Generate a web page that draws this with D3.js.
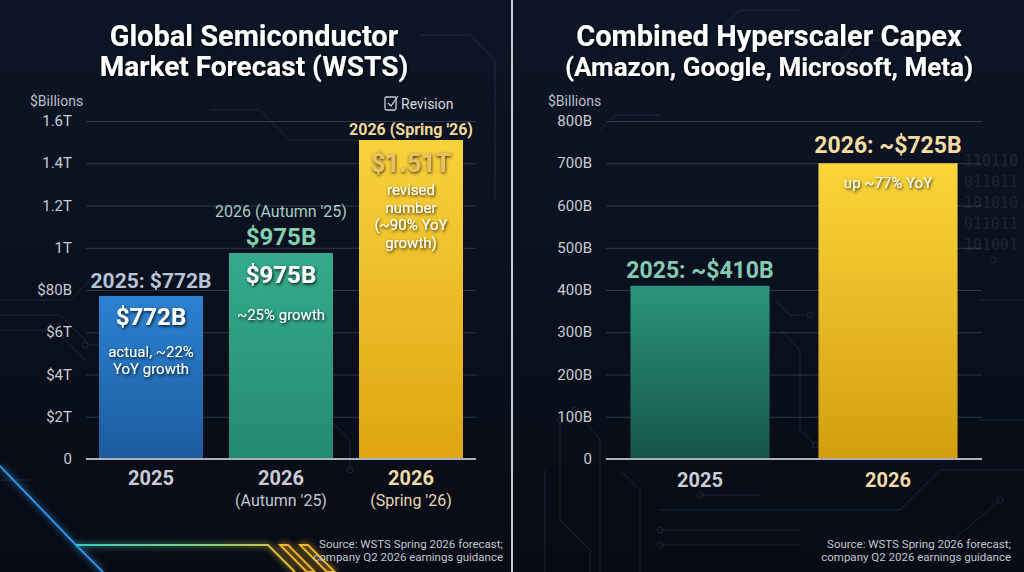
<!DOCTYPE html>
<html>
<head>
<meta charset="utf-8">
<script src="https://cdn.jsdelivr.net/npm/d3@7"></script>
<style>
  html, body { margin: 0; padding: 0; background: #0a111d; }
  svg { display: block; font-family: Roboto, "Noto Sans", sans-serif; }
</style>
</head>
<body>
<svg id="chart" width="1024" height="572"></svg>
<script>
// left chart: WSTS semiconductor market ($B)
const semiKeys = ["2025", "2026 (Autumn '25)", "2026 (Spring '26)"];
const semiValues = [772, 975, 1510];
const semiTicks = [0, 200, 400, 600, 800, 1000, 1200, 1400, 1600];
const semiTickLabels = ["0", "$2T", "$4T", "$6T", "$80B", "1T", "1.2T", "1.4T", "1.6T"];
const semiYear = ["2025", "2026", "2026"];
const semiSub = ["", "(Autumn '25)", "(Spring '26)"];

// right chart: hyperscaler capex ($B)
const capexKeys = ["2025", "2026"];
const capexValues = [410, 700];
const capexTicks = [0, 100, 200, 300, 400, 500, 600, 700, 800];
const capexTickLabels = ["0", "100B", "200B", "300B", "400B", "500B", "600B", "700B", "800B"];

const svg = d3.select("#chart");
const defs = svg.append("defs");

const bg = defs.append("linearGradient").attr("id", "bg")
    .attr("x1", 0).attr("y1", 0).attr("x2", 0).attr("y2", 1);
bg.append("stop").attr("offset", "0%").attr("stop-color", "#0d1627");
bg.append("stop").attr("offset", "100%").attr("stop-color", "#070b14");

function grad(id, top, bottom) {
    const g = defs.append("linearGradient").attr("id", id)
        .attr("x1", 0).attr("y1", 0).attr("x2", 0).attr("y2", 1);
    g.append("stop").attr("offset", "0%").attr("stop-color", top);
    g.append("stop").attr("offset", "100%").attr("stop-color", bottom);
}
grad("gBlue", "#2b82d2", "#1c5c9e");
grad("gGreen", "#35ab8c", "#248a70");
grad("gGold", "#f8d23c", "#dfa512");
grad("gTeal", "#2a957b", "#165449");
grad("gGold2", "#fbd53a", "#d39e0e");

const shadow = defs.append("filter").attr("id", "shadow")
    .attr("x", "-20%").attr("y", "-40%").attr("width", "140%").attr("height", "180%");
shadow.append("feDropShadow").attr("dx", 1).attr("dy", 1.5)
    .attr("stdDeviation", 1.6).attr("flood-color", "#000").attr("flood-opacity", 0.85);

const goldShadow = defs.append("filter").attr("id", "goldShadow")
    .attr("x", "-20%").attr("y", "-40%").attr("width", "140%").attr("height", "180%");
goldShadow.append("feDropShadow").attr("dx", 0.5).attr("dy", 1.2)
    .attr("stdDeviation", 1.4).attr("flood-color", "#3a2503").attr("flood-opacity", 1);

const glow = defs.append("filter").attr("id", "glow")
    .attr("x", "-20%").attr("y", "-50%").attr("width", "140%").attr("height", "200%");
glow.append("feGaussianBlur").attr("stdDeviation", 3).attr("result", "b");
const gm = glow.append("feMerge");
gm.append("feMergeNode").attr("in", "b");
gm.append("feMergeNode").attr("in", "SourceGraphic");

svg.append("rect").attr("width", 1024).attr("height", 572).attr("fill", "url(#bg)");

// faint circuit traces in the background
const deco = svg.append("g").attr("fill", "none").attr("stroke", "#34435a")
    .attr("stroke-width", 1).attr("opacity", 0.45);
const traces = [
    "M0,315 L60,315 L90,345 L100,345", "M0,330 L55,330 L85,360", "M0,300 L70,300 L95,275 L110,275",
    "M210,110 L260,110 L290,140 L360,140", "M420,35 L470,35 L495,60 L495,200",
    "M330,420 L350,440 L350,470", "M0,480 L30,480",
    "M560,420 L560,520 L590,550 L590,572", "M575,410 L600,440 L600,572", "M620,470 L640,490 L640,572",
    "M545,470 L545,572", "M660,530 L800,530", "M660,545 L800,545", "M660,510 L900,510 L940,470 L1024,470",
    "M700,495 L760,495", "M930,560 L1000,500", "M980,300 L1024,300", "M980,420 L1024,420",
    "M780,330 L800,350 L800,430 L815,445", "M775,300 L790,315 L810,315",
    "M600,130 L615,115 L660,115", "M700,50 L740,10 L800,10", "M840,60 L860,40 L960,40"
];
deco.selectAll("path").data(traces).join("path").attr("d", d => d);
const dots = [[85, 345], [110, 275], [560, 420], [575, 410], [660, 530], [660, 545], [700, 495],
    [993, 260], [1000, 500], [815, 445], [810, 315], [350, 470]];
deco.selectAll("circle").data(dots).join("circle")
    .attr("cx", d => d[0]).attr("cy", d => d[1]).attr("r", 3);

svg.append("g").attr("fill", "#3a475c").attr("opacity", 0.35)
    .attr("font-size", 15).attr("font-family", "'DejaVu Sans Mono', monospace")
    .selectAll("text").data(["110110", "011011", "101010", "011011", "101001"])
    .join("text").attr("x", 964).attr("y", (d, i) => 166 + i * 21).text(d => d);

// neon accent in the lower left corner
const neon = svg.append("g").attr("fill", "none").attr("filter", "url(#glow)");
neon.append("path").attr("d", "M0,466 L76,545 L103,572")
    .attr("stroke", "#2f8fe0").attr("stroke-width", 2);
const ng = defs.append("linearGradient").attr("id", "neon")
    .attr("x1", 0).attr("y1", 0).attr("x2", 1).attr("y2", 0);
ng.append("stop").attr("offset", "0%").attr("stop-color", "#36c9c0");
ng.append("stop").attr("offset", "60%").attr("stop-color", "#7fd07a");
ng.append("stop").attr("offset", "100%").attr("stop-color", "#f1b92a");
neon.append("path").attr("d", "M76,545 L268,545 L295,572")
    .attr("stroke", "url(#neon)").attr("stroke-width", 2);
neon.selectAll("polygon").data([0, 20]).join("polygon")
    .attr("points", d => `${280 + d},545 ${288 + d},545 ${315 + d},572 ${307 + d},572`)
    .attr("fill", "none").attr("stroke", "#f0b628").attr("stroke-width", 1.8);

// divider
svg.append("line").attr("x1", 512).attr("x2", 512).attr("y1", 0).attr("y2", 572)
    .attr("stroke", "#c9ced6").attr("stroke-width", 2);

const y0 = 459, y1 = 121;

function axisFrame(g, xRange, y, ticks, labels, labelX, unitX) {
    g.append("g")
        .attr("transform", `translate(${xRange[0]},0)`)
        .call(d3.axisLeft(y).tickValues(ticks.slice(1))
            .tickSize(-(xRange[1] - xRange[0])).tickFormat(""))
        .call(a => a.select(".domain").remove())
        .call(a => a.selectAll("line").attr("stroke", "#8d99ad").attr("stroke-opacity", 0.28));

    g.append("g").selectAll("text").data(ticks).join("text")
        .attr("x", labelX).attr("y", d => y(d) + 5)
        .attr("text-anchor", "end").attr("font-size", 15).attr("fill", "#c8ccd4")
        .text((d, i) => labels[i]);

    g.append("text").attr("x", unitX).attr("y", 106)
        .attr("font-size", 14).attr("fill", "#b9bec8").text("$Billions");
}

function baseline(g, xRange) {
    g.append("line").attr("x1", xRange[0]).attr("x2", xRange[1])
        .attr("y1", y0).attr("y2", y0).attr("stroke", "#a9b0bb").attr("stroke-width", 2);
}

function txt(g, x, yy, s, size, fill, weight, filterId) {
    const t = g.append("text").attr("x", x).attr("y", yy).attr("text-anchor", "middle")
        .attr("font-size", size).attr("fill", fill).attr("font-weight", weight || "normal")
        .text(s);
    if (filterId) t.attr("filter", `url(#${filterId === true ? "shadow" : filterId})`);
    return t;
}

// ---------- left chart ----------
{
    const g = svg.append("g");
    const xRange = [86, 476];
    const x = d3.scaleBand().domain(semiKeys).range(xRange).paddingInner(0.2).paddingOuter(0.1);
    const y = d3.scaleLinear().domain([0, 1600]).range([y0, y1]);

    axisFrame(g, xRange, y, semiTicks, semiTickLabels, 72, 30);

    const fills = ["url(#gBlue)", "url(#gGreen)", "url(#gGold)"];
    g.selectAll("rect.bar").data(semiValues).join("rect").attr("class", "bar")
        .attr("x", (d, i) => x(semiKeys[i])).attr("width", x.bandwidth())
        .attr("y", d => y(d)).attr("height", d => y0 - y(d))
        .attr("fill", (d, i) => fills[i]);
    baseline(g, xRange);

    const cx = i => x(semiKeys[i]) + x.bandwidth() / 2;
    const top = i => y(semiValues[i]);

    // 2025
    txt(g, cx(0), top(0) - 8, "2025: $772B", 21, "#b9c3d6", "bold");
    txt(g, cx(0), top(0) + 29, "$772B", 24, "#ffffff", "bold", true);
    txt(g, cx(0), top(0) + 61, "actual, ~22%", 15, "#ffffff", "normal", true);
    txt(g, cx(0), top(0) + 78, "YoY growth", 15, "#ffffff", "normal", true);

    // 2026 autumn
    txt(g, cx(1), top(1) - 36, "2026 (Autumn '25)", 16, "#a6cdc3");
    txt(g, cx(1), top(1) - 8, "$975B", 24, "#82d2b2", "bold");
    txt(g, cx(1), top(1) + 30, "$975B", 24, "#ffffff", "bold", true);
    txt(g, cx(1), top(1) + 67, "~25% growth", 15, "#ffffff", "normal", true);

    // 2026 spring
    const rx = cx(2) - 22;
    const icon = g.append("g").attr("fill", "none").attr("stroke", "#c8ccd4").attr("stroke-width", 1.3);
    icon.append("rect").attr("x", rx - 4).attr("y", 97).attr("width", 11).attr("height", 13).attr("rx", 1.5);
    icon.append("path").attr("d", `M${rx - 1},103 L${rx + 2},106 L${rx + 9},96`);
    g.append("text").attr("x", rx + 12).attr("y", 109).attr("font-size", 14)
        .attr("fill", "#d6d9df").text("Revision");
    txt(g, cx(2), 135, "2026 (Spring '26)", 16, "#f3d89a", "bold");
    txt(g, cx(2), 172, "$1.51T", 25, "#e8c262", "bold", "goldShadow");
    ["revised", "number", "(~90% YoY", "growth)"].forEach((s, i) =>
        txt(g, cx(2), 195 + i * 17.5, s, 15, "#ffffff", "normal", true));

    // x labels
    const yearFill = ["#c9ccd6", "#c9ccd6", "#f3dcaa"];
    semiKeys.forEach((k, i) => {
        txt(g, cx(i), 485, semiYear[i], 20, yearFill[i], "bold");
        if (semiSub[i]) txt(g, cx(i), 506, semiSub[i], 16, i === 2 ? "#e8d6b0" : "#c2c7d0");
    });

    txt(g, 254, 46, "Global Semiconductor", 29, "#ffffff", "bold", true);
    txt(g, 254, 76, "Market Forecast (WSTS)", 28, "#ffffff", "bold", true);
}

// ---------- right chart ----------
{
    const g = svg.append("g");
    const xRange = [606, 982];
    const x = d3.scaleBand().domain(capexKeys).range(xRange).paddingInner(0.26).paddingOuter(0.13);
    const y = d3.scaleLinear().domain([0, 800]).range([y0, y1]);

    axisFrame(g, xRange, y, capexTicks, capexTickLabels, 592, 548);

    const fills = ["url(#gTeal)", "url(#gGold2)"];
    g.selectAll("rect.bar").data(capexValues).join("rect").attr("class", "bar")
        .attr("x", (d, i) => x(capexKeys[i])).attr("width", x.bandwidth())
        .attr("y", d => y(d)).attr("height", d => y0 - y(d))
        .attr("fill", (d, i) => fills[i]);
    baseline(g, xRange);

    const cx = i => x(capexKeys[i]) + x.bandwidth() / 2;
    const top = i => y(capexValues[i]);

    txt(g, cx(0), top(0) - 8, "2025: ~$410B", 23, "#86c9b3", "bold");
    txt(g, cx(1), top(1) - 10, "2026: ~$725B", 23, "#f6dca0", "bold");
    txt(g, cx(1), top(1) + 25, "up ~77% YoY", 15, "#ffffff", "normal", true);

    txt(g, cx(0), 487, "2025", 20, "#c9ccd6", "bold");
    txt(g, cx(1), 487, "2026", 20, "#f3dcaa", "bold");

    txt(g, 769, 46, "Combined Hyperscaler Capex", 29, "#ffffff", "bold", true);
    txt(g, 769, 76, "(Amazon, Google, Microsoft, Meta)", 26, "#ffffff", "bold", true);
}

// sources
const src = ["Source: WSTS Spring 2026 forecast;", "company Q2 2026 earnings guidance"];
[503, 1011].forEach(xr => {
    svg.append("g").selectAll("text").data(src).join("text")
        .attr("x", xr).attr("y", (d, i) => 548 + i * 13)
        .attr("text-anchor", "end").attr("font-size", 11.5)
        .attr("font-family", "'Liberation Sans Narrow', Roboto, sans-serif")
        .attr("fill", "#c3c7cf").text(d => d);
});
</script>
</body>
</html>
